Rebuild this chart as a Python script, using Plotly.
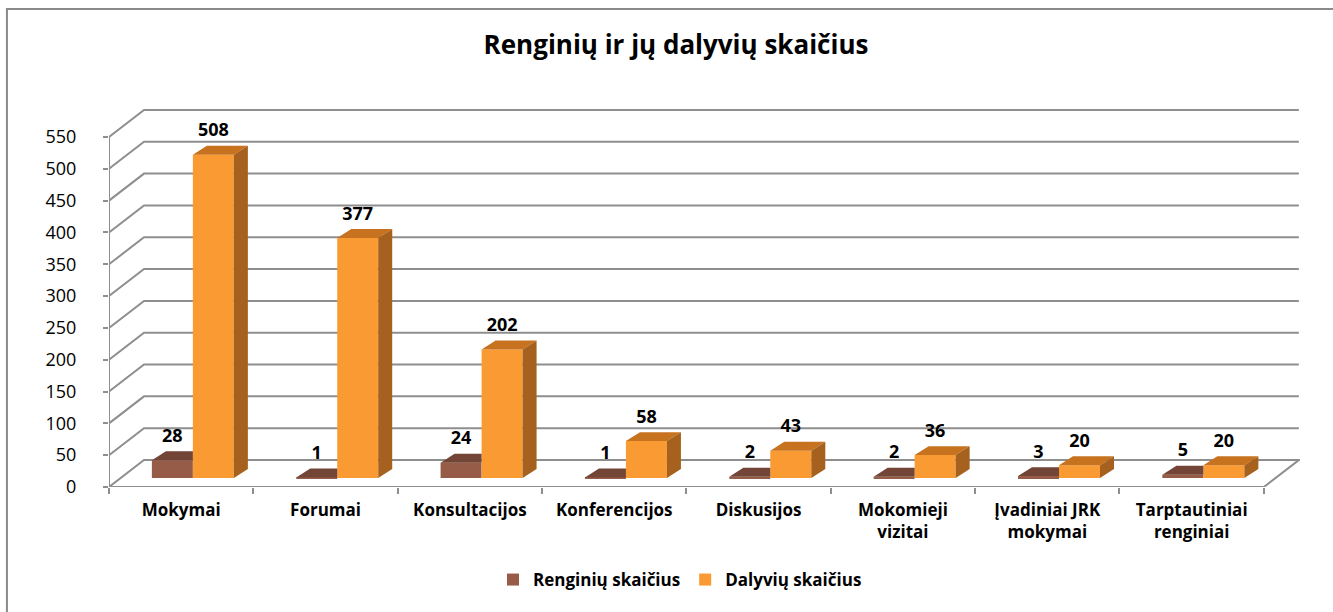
import plotly.graph_objects as go

# ---------------- data ----------------
categories = ["Mokymai", "Forumai", "Konsultacijos", "Konferencijos", "Diskusijos",
              "Mokomieji<br>vizitai", "Įvadiniai JRK<br>mokymai", "Tarptautiniai<br>renginiai"]
renginiu = [28, 1, 24, 1, 2, 2, 3, 5]
dalyviu = [508, 377, 202, 58, 43, 36, 20, 20]
series_names = ["Renginių skaičius", "Dalyvių skaičius"]
y_ticks = list(range(0, 551, 50))
title_text = "Renginių ir jų dalyvių skaičius"

# ---------------- styling / pseudo-3D geometry ----------------
FONT = "Open Sans"
BROWN_FRONT, BROWN_TOP = "#975C48", "#734536"
ORANGE_FRONT, ORANGE_TOP, ORANGE_SIDE = "#F99A32", "#C7721F", "#A5611D"
GRID = "#8e8e8e"

n = len(categories)
X0, X1 = -0.5, n - 0.5          # front floor edge
DX, DY = 0.2425, 42.4           # full depth offset (x in categories, y in value units)
SHIFT_X, BASE = 0.081, 14.1     # bar front plane offset
BW = 0.284                      # bar width
BDX, BDY = 0.097, 14.1          # bar depth offset
LABEL_LIFT = 8.0                # extra gap for the data labels (value units)
YMAX = 595.5

fig = go.Figure()

# front faces (real bars)
xs = [i + SHIFT_X for i in range(n)]
fig.add_trace(go.Bar(x=xs, y=renginiu, base=BASE, width=BW, offset=-BW,
                     marker=dict(color=BROWN_FRONT, line=dict(width=0)),
                     name=series_names[0], hoverinfo="skip"))
fig.add_trace(go.Bar(x=xs, y=dalyviu, base=BASE, width=BW, offset=0,
                     marker=dict(color=ORANGE_FRONT, line=dict(width=0)),
                     name=series_names[1], hoverinfo="skip"))


def poly(px, py, color):
    fig.add_trace(go.Scatter(x=px + [px[0]], y=py + [py[0]], mode="lines", fill="toself",
                             fillcolor=color, line=dict(width=0, color=color),
                             showlegend=False, hoverinfo="skip"))


for i in range(n):
    c = xs[i]
    # brown top (visible part, right part hidden behind orange front)
    xl, xr = c - BW, c
    t = BASE + renginiu[i]
    poly([xl, xr, xr, xl + BDX], [t, t, t + BDY, t + BDY], BROWN_TOP)
    # orange top and side
    xl, xr = c, c + BW
    t = BASE + dalyviu[i]
    poly([xl, xr, xr + BDX, xl + BDX], [t, t, t + BDY, t + BDY], ORANGE_TOP)
    poly([xr, xr + BDX, xr + BDX, xr], [BASE, BASE + BDY, t + BDY, t], ORANGE_SIDE)

# data labels
lab_font = dict(family=FONT, size=18, color="#000000")
fig.add_trace(go.Scatter(x=[c - BW / 2 for c in xs],
                         y=[BASE + v + BDY + LABEL_LIFT for v in renginiu],
                         mode="text", text=[f"<b>{v}</b>" for v in renginiu],
                         textposition="top center", textfont=lab_font,
                         showlegend=False, hoverinfo="skip"))
fig.add_trace(go.Scatter(x=[c + BW / 2 for c in xs],
                         y=[BASE + v + BDY + LABEL_LIFT for v in dalyviu],
                         mode="text", text=[f"<b>{v}</b>" for v in dalyviu],
                         textposition="top center", textfont=lab_font,
                         showlegend=False, hoverinfo="skip"))

# grid / walls
shapes = []
for v in y_ticks:
    if v == 0:
        path = (f"M {X0},{v} L {X0 + DX},{v + DY} L {X1 + DX},{v + DY} L {X1},{v} Z")
    else:
        path = f"M {X0},{v} L {X0 + DX},{v + DY} L {X1 + DX},{v + DY}"
    shapes.append(dict(type="path", path=path, xref="x", yref="y", layer="below",
                       line=dict(color=GRID, width=2)))
# front axes
shapes.append(dict(type="line", xref="x", yref="y", x0=X0, x1=X0, y0=0, y1=y_ticks[-1],
                   layer="below", line=dict(color=GRID, width=2)))
shapes.append(dict(type="line", xref="x", yref="y", x0=X0, x1=X1, y0=0, y1=0,
                   layer="below", line=dict(color=GRID, width=2)))
# outer chart border
shapes.append(dict(type="rect", xref="paper", yref="paper", x0=-0.0857, x1=1.2,
                   y0=-0.6, y1=1.2612, layer="below", line=dict(color="#8a8a8a", width=2)))

fig.update_layout(
    width=1333, height=612,
    margin=dict(l=109, r=33, t=108, b=125),
    paper_bgcolor="white", plot_bgcolor="white",
    barmode="overlay",
    shapes=shapes,
    title=dict(text=f"<b>{title_text}</b>", x=676 / 1333, xref="container", xanchor="center",
               y=1 - 45 / 612, yref="container", yanchor="middle",
               font=dict(family=FONT, size=26, color="#000000")),
    legend=dict(orientation="h", xref="container", x=680 / 1333, xanchor="center",
                yref="container", y=1 - 580 / 612, yanchor="middle",
                font=dict(family=FONT, size=17, color="#000000", weight="bold"),
                itemwidth=30, traceorder="normal"),
    xaxis=dict(range=[X0, X1 + DX + 0.008], tickmode="array", tickvals=list(range(n)),
               ticktext=[f"<b>{c}</b>" for c in categories], showgrid=False, zeroline=False,
               showline=False, ticks="", ticklabelstandoff=11,
               tickfont=dict(family=FONT, size=17, color="#000000"),
               minor=dict(ticks="outside", tick0=-0.5, dtick=1, ticklen=6, tickwidth=2,
                          tickcolor=GRID, showgrid=False),
               fixedrange=True),
    yaxis=dict(range=[0, YMAX], tickmode="array", tickvals=y_ticks,
               ticktext=[str(v) for v in y_ticks], showgrid=False, zeroline=False,
               showline=False, ticks="outside", ticklen=5, tickwidth=2, tickcolor=GRID,
               ticklabelstandoff=23,
               tickfont=dict(family=FONT, size=18, color="#000000"), fixedrange=True),
)
fig.write_html("out.html", config={"displayModeBar": False},
               post_script="document.body.style.margin='0';document.body.style.overflow='hidden';")
